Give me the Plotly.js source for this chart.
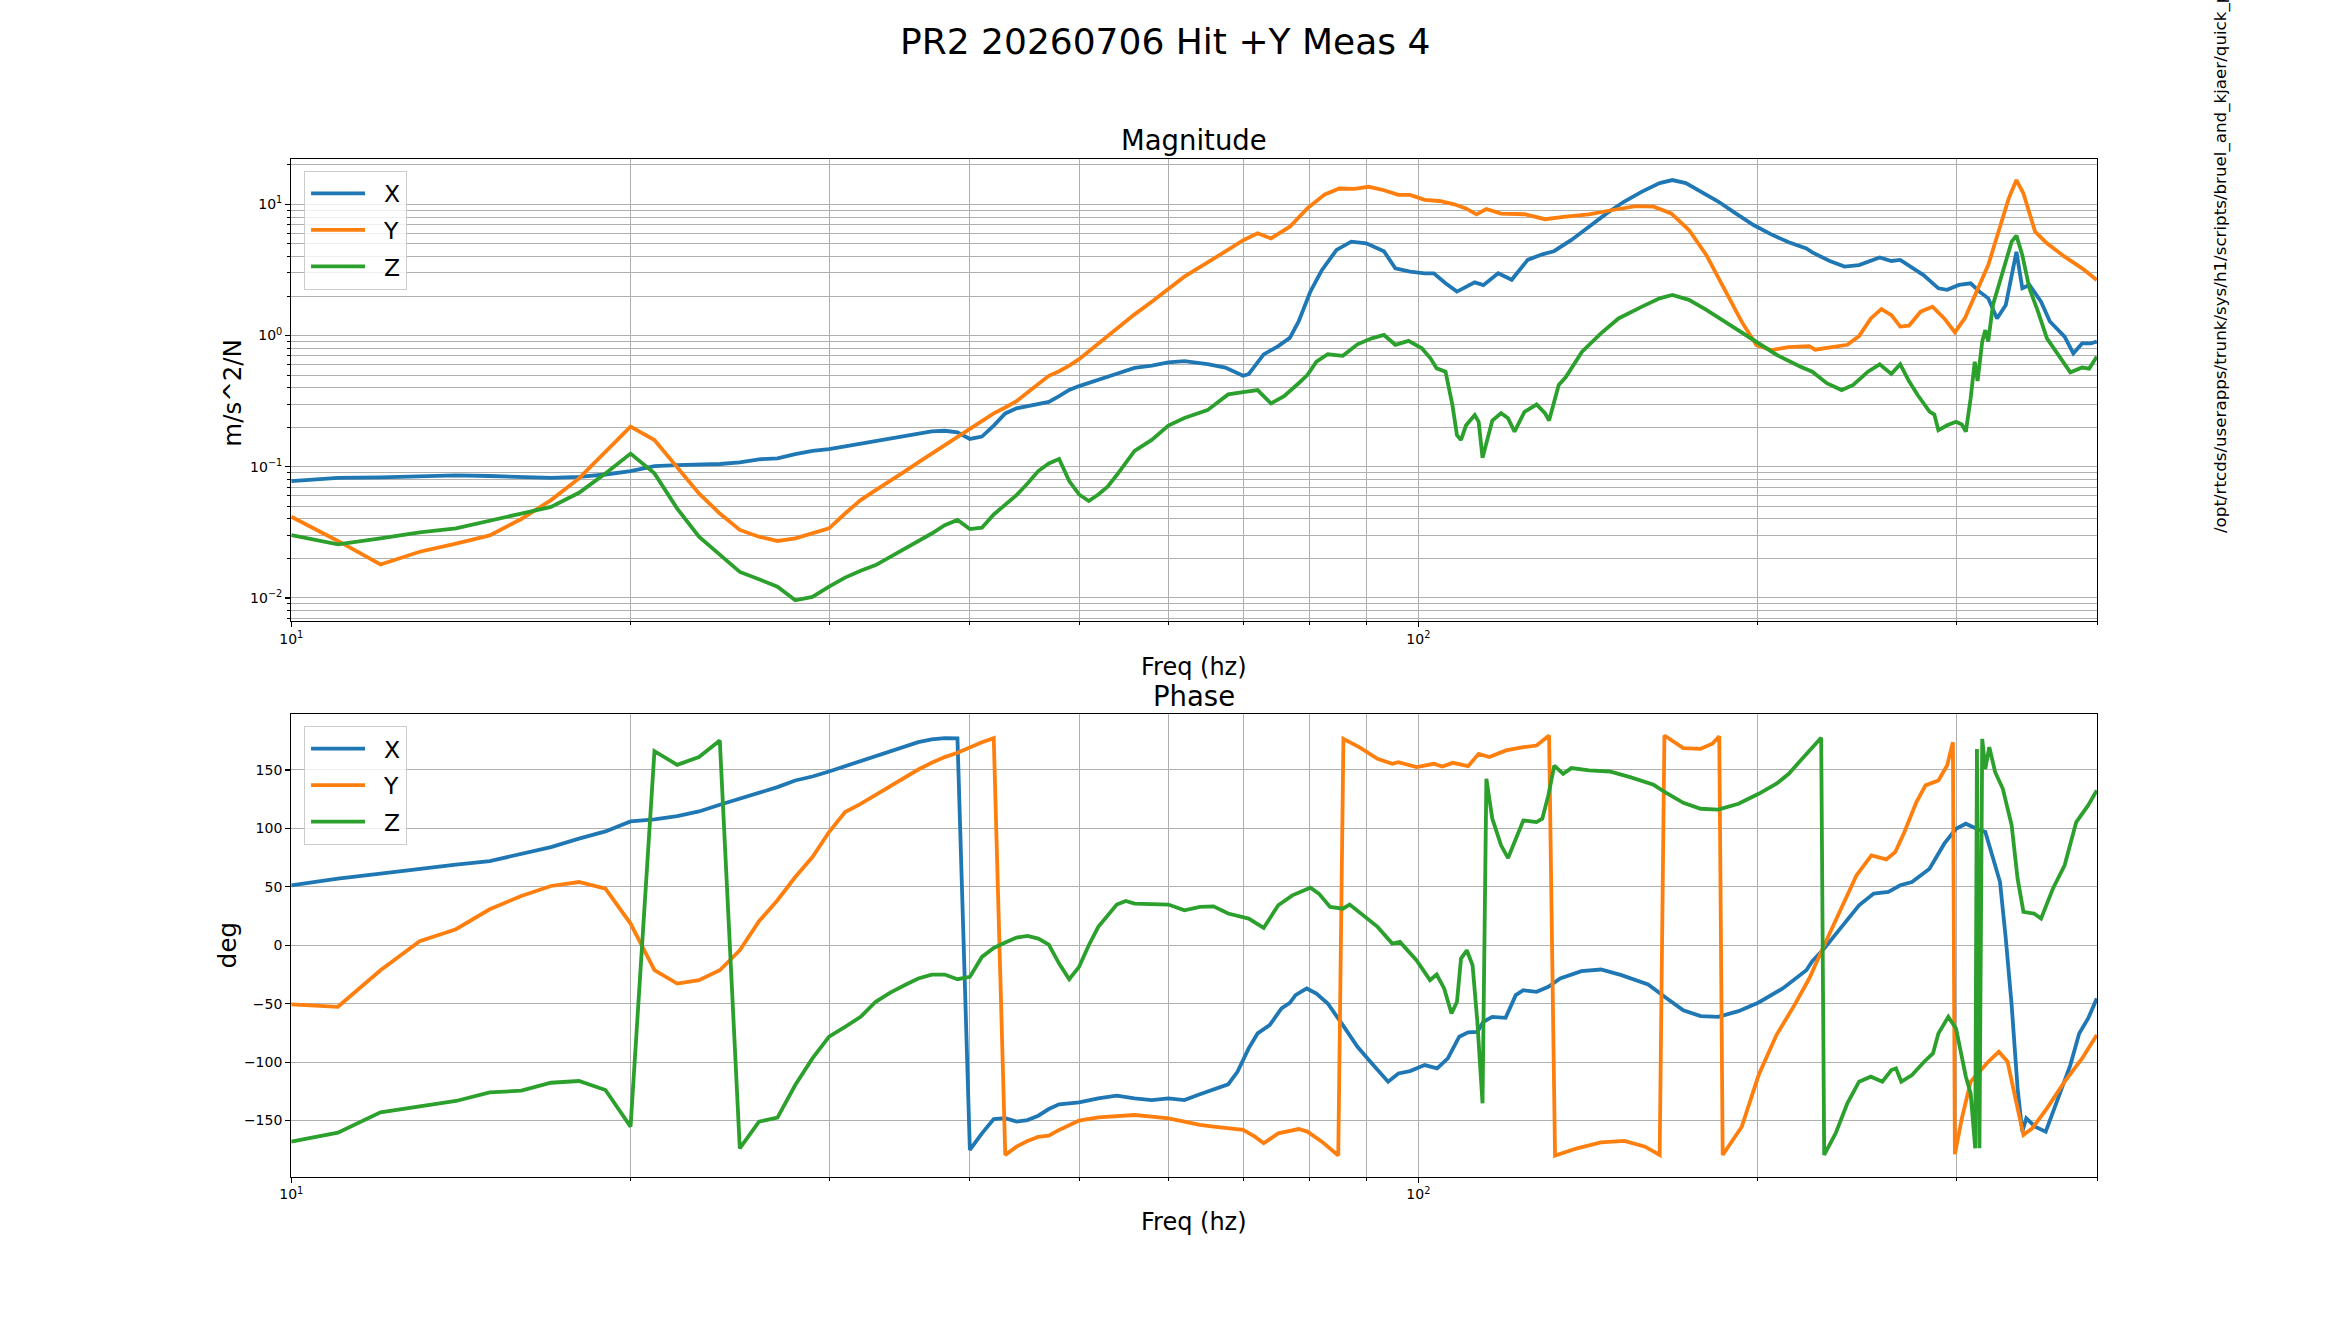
<!DOCTYPE html>
<html>
<head>
<meta charset="utf-8">
<script src="https://cdn.plot.ly/plotly-3.0.1.min.js"></script>
<style>html,body{margin:0;padding:0;background:#fff;}#chart{width:2330px;height:1322px;}</style>
</head>
<body>
<div id="chart"></div>
<script>
// ---------- Magnitude data (m/s^2/N) ----------
const magXFreq = [10,11,12,13,14,15,16,17,18,19,20,21,22,23,24,25,26,27,28,29,30,31,32,33,34,35,36,37,38,39,40,41,42,43,44,45,46,47,48,49,50,
  52,54,56,58,60,62,
  65,67.4,69.9,70.7,72.9,75.1,76.9,78.3,80.2,82.1,
  84.6,87.2,89.9,92.0,93.2,95.4,98.3,101.3,103.2,105.7,
  108.2,112.2,114.2,117.7,121.0,125.0,128.8,131.9,136.7,141.7,
  146.9,152.3,157.9,163.7,168.0,172.7,178.0,184.5,191.2,198.3,
  205.6,213.1,220.9,223.6,231.7,238.8,246.0,256.6,262.8,267.6,
  280.6,289.3,294.5,301.7,309.0,314.6,320.3,326.1,332.0,339.3,
  343.4,348.4,356.8,363.3,374.4,381.1,388.0,394.9,399.8];
const magX = [0.0778,0.0824,0.0830,0.0850,0.0861,0.0850,0.0830,0.0824,0.0838,0.0873,
  0.0927,0.101,0.103,0.104,0.105,0.108,0.114,0.116,0.125,0.132,
  0.136,0.143,0.150,0.157,0.164,0.172,0.180,0.186,0.188,0.183,
  0.163,0.170,0.206,0.255,0.279,0.290,0.299,0.312,0.345,0.385,
  0.412,
  0.457,0.511,0.567,0.590,0.624,0.638,
  0.606,0.570,0.493,0.508,0.718,0.83,0.96,1.28,2.16,3.15,
  4.49,5.19,5.05,4.61,4.39,3.25,3.07,2.98,2.98,2.5,
  2.16,2.54,2.42,2.98,2.66,3.77,4.16,4.39,5.35,6.75,
  8.53,10.5,12.5,14.5,15.3,14.5,12.5,10.5,8.53,6.95,
  5.9,5.13,4.61,4.3,3.70,3.35,3.44,3.93,3.70,3.77,
  2.89,2.29,2.23,2.43,2.50,2.16,1.92,1.35,1.71,4.35,
  2.29,2.43,1.81,1.28,0.98,0.73,0.87,0.87,0.90];

const magYFreq = [10,11,12,13,14,15,16,17,18,19,20,21,22,23,24,25,26,27,28,29,30,31,32,33,34,35,36,37,38,39,40,41,42,43,44,45,46,47,48,49,50,
  52,54,56,58,60,62,
  66.6,70.0,72.0,74.0,76.9,79.7,82.6,85.1,87.7,90.4,
  93.2,96.0,98.3,101.3,104.4,107.6,110.2,112.6,114.9,118.4,
  124.2,129.5,135.1,141.7,148.7,156.0,161.7,167.6,173.8,180.1,
  186.7,193.6,199.5,205.6,213.1,222.2,224.9,231.7,240.2,246.0,
  252.0,257.5,262.8,267.6,272.4,279.0,285.8,292.8,299.2,305.3,
  312.7,320.3,328.1,334.0,339.3,344.2,352.5,361.1,374.4,388.0,
  399.8];
const magY = [0.0416,0.0272,0.018,0.0225,0.026,0.030,0.040,0.0557,0.0815,0.130,
  0.202,0.160,0.100,0.0627,0.044,0.033,0.0293,0.0272,0.0285,0.031,
  0.0339,0.044,0.0557,0.0664,0.0778,0.0917,0.108,0.126,0.148,0.171,
  0.196,0.227,0.255,0.283,0.316,0.368,0.431,0.493,0.535,0.589,
  0.661,
  0.873,1.135,1.45,1.81,2.25,2.81,
  4.10,5.35,6.01,5.49,6.75,9.31,11.9,13.2,13.1,13.6,
  12.8,11.8,11.8,10.8,10.6,10.0,9.31,8.39,9.2,8.49,
  8.4,7.7,8.05,8.39,9.05,9.7,9.6,8.53,6.37,4.10,
  2.29,1.27,0.846,0.775,0.815,0.83,0.78,0.815,0.85,0.99,
  1.35,1.59,1.43,1.17,1.19,1.52,1.66,1.35,1.06,1.35,
  2.16,3.44,6.75,11.1,15.3,12.1,6.19,5.05,3.99,3.25,
  2.65];

const magZFreq = [10,11,12,13,14,15,16,17,18,19,20,21,22,23,24,25,26,27,28,29,30,31,32,33,34,35,36,37,38,39,40,41,42,43,44,45,46,47,48,49,50,51,52,53,54,
  56,58,60,62,65,
  67.8,69.9,72.0,74.0,76.0,78.3,79.7,81.2,83.1,85.7,
  88.3,90.9,93.2,95.4,98.0,100.7,102.5,103.8,105.7,107.2,
  108.2,109.1,110.2,112.2,113.1,114.0,114.9,116.3,118.4,120.1,
  121.7,124.2,127.3,129.5,130.6,133.2,135.1,139.7,145.2,150.5,
  157.9,163.7,168.0,173.8,180.1,188.9,197.1,208.0,218.3,223.6,
  230.3,237.4,243.1,250.5,256.6,262.8,267.6,272.4,277.3,284.1,
  286.9,289.3,294.5,299.9,303.5,306.0,309.0,311.6,313.4,316.4,
  318.4,320.3,323.4,330.0,336.0,339.3,343.4,348.4,354.6,361.1,
  369.8,378.8,388.0,393.7,399.8];
const magZ = [0.0302,0.0256,0.0285,0.0316,0.0339,0.0385,0.044,0.0495,0.0633,0.089,
  0.126,0.089,0.048,0.0293,0.0212,0.0158,0.0139,0.0122,0.0096,0.0102,
  0.0122,0.0143,0.0161,0.0178,0.0206,0.0236,0.0272,0.031,0.0359,0.0393,
  0.0335,0.0343,0.0433,0.051,0.0608,0.0746,0.0927,0.106,0.1145,0.0778,
  0.0615,0.0548,0.0615,0.0706,0.0865,
  0.132,0.160,0.206,0.235,0.270,
  0.356,0.37,0.384,0.304,0.345,0.433,0.500,0.632,0.720,0.70,
  0.857,0.952,1.01,0.85,0.91,0.80,0.67,0.562,0.53,0.295,
  0.174,0.160,0.206,0.248,0.22,0.117,0.155,0.225,0.256,0.234,
  0.185,0.262,0.298,0.256,0.225,0.42,0.48,0.753,1.04,1.35,
  1.66,1.92,2.04,1.87,1.57,1.20,0.952,0.711,0.579,0.53,
  0.433,0.384,0.42,0.53,0.604,0.51,0.604,0.45,0.352,0.263,
  0.25,0.190,0.207,0.220,0.21,0.185,0.333,0.632,0.45,0.90,
  1.10,0.90,1.71,3.06,5.19,5.77,4.10,2.29,1.52,0.95,
  0.711,0.524,0.57,0.56,0.69];

// ---------- Phase data (deg) ----------
const phXFreq = [10,11,12,13,14,15,16,17,18,19,20,21,22,23,24,25,26,27,28,29,30,31,32,33,34,35,36,37,38,39,40,41,42,43,44,45,46,47,48,49,50,
  52,54,56,58,60,62,64,
  67.8,69.1,70.7,72.0,73.8,75.6,76.9,77.8,79.6,81.2,
  83.1,85.7,88.3,90.9,94.0,96.0,98.3,101.3,103.9,106.2,
  108.7,110.7,112.8,114.2,116.3,119.5,122.0,123.9,127.3,130.4,
  133.6,139.5,145.2,151.4,159.9,165.8,171.8,178.0,184.5,192.3,
  200.4,210.5,220.9,223.6,229.1,237.4,246.0,253.5,261.2,267.6,
  274.1,284.1,292.8,299.9,306.0,312.7,318.4,324.2,328.1,332.0,
  336.0,340.1,343.4,346.2,352.5,360.2,367.7,378.8,385.7,392.8,
  399.8];
const phX = [51.3,57,61.3,65.5,69,72,78.3,84,91.2,97.4,
  106,107.7,110.5,114.5,120.2,125.4,130.5,135.3,141,144.4,
  148.7,153.3,158.1,162.4,166.1,170.4,173.8,176.1,177.2,177,
  -175.2,-161,-148.7,-148,-151,-149.6,-145.9,-140.2,-136.2,-135.3,
  -134.5,
  -131,-128.8,-131,-132.5,-131,-132.5,-127.6,
  -119.1,-108.3,-88.3,-75.5,-68.4,-54.1,-49.3,-42.7,-37,-41.3,
  -49.9,-68.4,-86.9,-101.1,-116.8,-109.7,-107.7,-102.6,-105.4,-96.9,
  -78.3,-74.6,-74.1,-65.5,-61.3,-62.1,-42.7,-38.5,-39.9,-35.6,
  -28.5,-22.2,-20.8,-25.6,-33.6,-45,-55.6,-60.7,-61.3,-56.4,
  -49,-37,-21.4,-13.7,-2.8,15.7,34.2,44.2,45.6,51.3,
  54.1,65.5,86.9,99.7,104,99.7,96.9,71.2,54.1,5.7,
  -51.3,-122.5,-159.5,-148.1,-155.3,-159.5,-136.8,-102.6,-75.5,-62.7,
  -45.6];

const phYFreq = [10,11,12,13,14,15,16,17,18,19,20,21,22,23,24,25,26,27,28,29,30,31,32,33,34,35,36,37,38,39,40,41,42,43,44,45,46,47,48,49,50,
  52,54,56,58,60,62,64,
  65.8,69.9,71.6,72.9,75.1,78.3,79.7,82.1,84.9,85.8,
  88.6,92.0,94.8,96.0,99.6,103.2,105.0,107.3,110.7,113.1,
  115.6,119.6,123.9,127.3,130.6,132.2,138.3,145.2,152.3,158.9,
  163.7,165.3,171.8,178.0,182.3,184.9,186.2,193.6,200.4,207.8,
  215.6,222.2,229.1,237.4,244.7,252.3,260.1,264.9,269.9,276.6,
  281.8,289.3,294.5,298.0,299.2,303.5,309.0,314.6,320.3,327.3,
  333.2,338.1,344.2,350.4,361.1,374.4,388.0,399.8];
const phY = [-50.7,-52.7,-21.4,3.4,13.7,30.8,42.2,50.7,54.1,48.4,
  18.5,-21.4,-32.8,-29.9,-21.4,-4.3,20.5,38.5,58.4,75.5,
  96.9,114,121,128.8,136.2,143,150.4,156.1,161,164.7,
  169.5,173.8,177.2,-179.5,-172.4,-167.5,-164.1,-163,-158.1,-153.8,
  -150.1,
  -147.3,-145.9,-145.3,-146.7,-148.1,-151,-153.8,
  -155.3,-158.1,-163.8,-169.5,-161,-157.3,-159.5,-168.1,-180,176.6,
  169.5,159.5,155.3,156.7,152.4,155.3,153,156.1,153.3,163.8,
  161,166.7,169.5,170.9,179.5,-180,-173.8,-168.7,-167.5,-172.4,
  -179.5,179.5,168.7,168.1,172.4,178.9,-179.5,-155.3,-111.1,-76.9,
  -51.3,-28.5,0,31.3,59.8,76.9,73.5,79.8,96.9,122.5,
  136.8,141,153.8,173.8,-178.9,-148.1,-116.8,-108.3,-99.7,-91.2,
  -99.7,-128.2,-162.4,-156.7,-139.6,-116.8,-96.9,-76.9];

const phZFreq = [10,11,12,13,14,15,16,17,18,19,20,21,22,23,24,25,26,27,28,29,30,31,32,33,34,35,36,37,38,39,40,41,42,43,44,45,46,47,48,49,50,51,52,
  54,55,56,58,60,62,64,
  65.8,67.8,70.7,72.9,75.1,77.3,80.2,81.6,83.5,85.7,
  86.9,89.4,92.0,94.8,96.3,99.6,102.4,103.8,105.4,107.0,
  108.2,109.1,110.4,111.7,112.8,114.0,114.9,116.3,118.4,120.1,
  122.0,123.9,127.3,128.8,130.4,132.0,134.4,136.7,141.7,147.8,
  154.1,161.7,165.8,171.8,178.0,184.5,192.3,200.4,207.8,213.1,
  218.3,223.6,227.7,229.1,234.5,240.2,246.0,252.0,258.0,262.8,
  265.3,268.2,274.1,281.0,286.1,289.3,295.2,299.9,303.5,306.0,
  309.0,311.9,313.0,314.6,316.4,318.4,321.0,324.9,330.0,336.0,
  340.1,344.2,351.7,356.8,365.5,374.4,383.4,392.8,399.8];
const phZ = [-168.1,-160.4,-143,-138.2,-133.3,-125.9,-124.5,-117.7,-116.2,-123.9,
  -155.3,166.1,154.4,161,175.2,-173.8,-151,-147.6,-119.7,-96.9,
  -78.3,-69.8,-61.3,-48.4,-40.5,-34.2,-28.5,-25.1,-25.1,-29.1,
  -27.1,-10,-2.3,2.3,6.6,8,5.7,0.6,-15.7,-29.1,
  -18.5,0,15.7,
  34.8,37.9,35.6,35,34.8,29.9,32.8,
  33.3,27.1,22.8,14.8,34.2,42.7,49.3,44.2,32.8,31.3,
  34.8,25.6,15.7,1.4,2.8,-12.8,-29.9,-25.1,-37,-58.4,
  -48.4,-11.4,-4.3,-17.1,-65.5,-135.3,142.5,108.3,85.5,74.6,
  91.2,106.8,105.4,108.3,128.2,153.8,146.7,151.6,149.6,148.7,
  143.9,137.3,130.5,121.9,116.8,116,121.1,129.6,138.2,146.7,
  158.1,169.5,177.5,-179.5,-161,-135.3,-116.8,-112.5,-116.8,-106.8,
  -105.4,-116.8,-111.1,-99.7,-92.6,-75.5,-61.3,-71.2,-94,-112.5,
  -126.8,-173.8,168,-173.8,176.6,151,169.5,148.1,133.9,102.6,
  57,28.5,27.1,22.8,48.4,68.4,105.4,119.7,132.5];

// ---------- Labels / ticks ----------
const seriesNames = ['X', 'Y', 'Z'];
const seriesColors = ['#1f77b4', '#ff7f0e', '#2ca02c'];
const freqMajorTicks = [10, 100];
const freqMajorText = ['10<sup>1</sup>', '10<sup>2</sup>'];
const freqMinorTicks = [20,30,40,50,60,70,80,90,200,300,400];
const magMajorTicks = [0.01, 0.1, 1, 10];
const magMajorText = ['10<sup>\u22122</sup>', '10<sup>\u22121</sup>', '10<sup>0</sup>', '10<sup>1</sup>'];
const magMinorTicks = [0.007,0.008,0.009,0.02,0.03,0.04,0.05,0.06,0.07,0.08,0.09,0.2,0.3,0.4,0.5,0.6,0.7,0.8,0.9,2,3,4,5,6,7,8,9,20];
const phaseTicks = [-150,-100,-50,0,50,100,150];
const titleText = 'PR2 20260706 Hit +Y Meas 4';
const pathText = '/opt/rtcds/userapps/trunk/sys/h1/scripts/bruel_and_kjaer/quick_plot.py';

const magF = [magXFreq, magYFreq, magZFreq];
const magV = [magX, magY, magZ];
const phF = [phXFreq, phYFreq, phZFreq];
const phV = [phX, phY, phZ];

const FONT = 'DejaVu Sans, Liberation Sans, sans-serif';
const LW = 3.8;
const traces = [];
for (let i = 0; i < 3; i++) {
  traces.push({x: magF[i], y: magV[i], type: 'scatter', mode: 'lines', name: seriesNames[i],
    line: {color: seriesColors[i], width: LW}, xaxis: 'x', yaxis: 'y', legend: 'legend',
    legendgroup: 'm' + i, hoverinfo: 'skip'});
}
for (let i = 0; i < 3; i++) {
  traces.push({x: phF[i], y: phV[i], type: 'scatter', mode: 'lines', name: seriesNames[i],
    line: {color: seriesColors[i], width: LW}, xaxis: 'x2', yaxis: 'y2', legend: 'legend2',
    legendgroup: 'p' + i, hoverinfo: 'skip'});
}

const gridC = '#b0b0b0';
function freqAxis(anchor) {
  return {
    type: 'log', domain: [0.125, 0.9], anchor: anchor, range: [1, Math.log10(400)],
    tickmode: 'array', tickvals: freqMajorTicks, ticktext: freqMajorText,
    ticks: 'outside', ticklen: 5, tickwidth: 1.1, tickcolor: '#000',
    showline: true, mirror: true, linecolor: '#000', linewidth: 1.1,
    showgrid: true, gridcolor: gridC, gridwidth: 1, zeroline: false,
    tickfont: {family: FONT, size: 14, color: '#000'},
    minor: {tickmode: 'array', tickvals: freqMinorTicks, ticks: 'outside', ticklen: 3,
      tickwidth: 1, tickcolor: '#000', showgrid: true, gridcolor: gridC, gridwidth: 1}
  };
}

const legendBase = {
  x: 0.1305, xanchor: 'left', yanchor: 'top',
  bgcolor: 'rgba(255,255,255,0.8)', bordercolor: '#cccccc', borderwidth: 1,
  font: {family: FONT, size: 23.5, color: '#000'},
  traceorder: 'grouped', tracegroupgap: 3, itemwidth: 69
};

const layout = {
  width: 2330, height: 1322,
  margin: {l: 0, r: 0, t: 0, b: 0},
  paper_bgcolor: '#fff', plot_bgcolor: '#fff',
  font: {family: FONT, size: 14, color: '#000'},
  showlegend: true,
  legend: Object.assign({}, legendBase, {y: 0.8710}),
  legend2: Object.assign({}, legendBase, {y: 0.4510}),
  xaxis: freqAxis('y'),
  xaxis2: freqAxis('y2'),
  yaxis: {
    type: 'log', domain: [0.530, 0.880], anchor: 'x', range: [-2.178, 1.348],
    tickmode: 'array', tickvals: magMajorTicks, ticktext: magMajorText,
    ticks: 'outside', ticklen: 5, tickwidth: 1.1, tickcolor: '#000',
    showline: true, mirror: true, linecolor: '#000', linewidth: 1.1,
    showgrid: true, gridcolor: gridC, gridwidth: 1, zeroline: false,
    tickfont: {family: FONT, size: 14, color: '#000'},
    minor: {tickmode: 'array', tickvals: magMinorTicks, ticks: 'outside', ticklen: 3,
      tickwidth: 1, tickcolor: '#000', showgrid: true, gridcolor: gridC, gridwidth: 1}
  },
  yaxis2: {
    domain: [0.11, 0.46], anchor: 'x2', range: [-198, 198],
    tickmode: 'array', tickvals: phaseTicks,
    ticks: 'outside', ticklen: 5, tickwidth: 1.1, tickcolor: '#000',
    showline: true, mirror: true, linecolor: '#000', linewidth: 1.1,
    showgrid: true, gridcolor: gridC, gridwidth: 1, zeroline: false,
    tickfont: {family: FONT, size: 14, color: '#000'}
  },
  annotations: [
    {text: titleText, xref: 'paper', yref: 'paper', x: 0.5, y: 0.9684, xanchor: 'center', yanchor: 'middle',
      showarrow: false, font: {family: FONT, size: 36, color: '#000'}},
    {text: 'Magnitude', xref: 'paper', yref: 'paper', x: 0.5125, y: 0.8942, xanchor: 'center', yanchor: 'middle',
      showarrow: false, font: {family: FONT, size: 27.5, color: '#000'}},
    {text: 'Phase', xref: 'paper', yref: 'paper', x: 0.5125, y: 0.4732, xanchor: 'center', yanchor: 'middle',
      showarrow: false, font: {family: FONT, size: 27.5, color: '#000'}},
    {text: 'Freq (hz)', xref: 'paper', yref: 'paper', x: 0.5125, y: 0.4958, xanchor: 'center', yanchor: 'middle',
      showarrow: false, font: {family: FONT, size: 24, color: '#000'}},
    {text: 'Freq (hz)', xref: 'paper', yref: 'paper', x: 0.5125, y: 0.0757, xanchor: 'center', yanchor: 'middle',
      showarrow: false, font: {family: FONT, size: 24, color: '#000'}},
    {text: 'm/s^2/N', xref: 'paper', yref: 'paper', x: 0.1000, y: 0.703, xanchor: 'center', yanchor: 'middle',
      textangle: -90, showarrow: false, font: {family: FONT, size: 24.5, color: '#000'}},
    {text: 'deg', xref: 'paper', yref: 'paper', x: 0.0974, y: 0.285, xanchor: 'center', yanchor: 'middle',
      textangle: -90, showarrow: false, font: {family: FONT, size: 24.5, color: '#000'}},
    {text: pathText, xref: 'paper', yref: 'paper', x: 0.9528, y: 0.5953, xanchor: 'center', yanchor: 'bottom',
      textangle: -90, showarrow: false, font: {family: FONT, size: 16.7, color: '#000'}}
  ]
};

Plotly.newPlot('chart', traces, layout, {staticPlot: true, displayModeBar: false}).then(function (gd) {
  // lengthen the legend line samples to match the reference legend handles
  gd.querySelectorAll('.legendlines path').forEach(function (p) { p.setAttribute('d', 'M6,0h54'); });
});
</script>
</body>
</html>
